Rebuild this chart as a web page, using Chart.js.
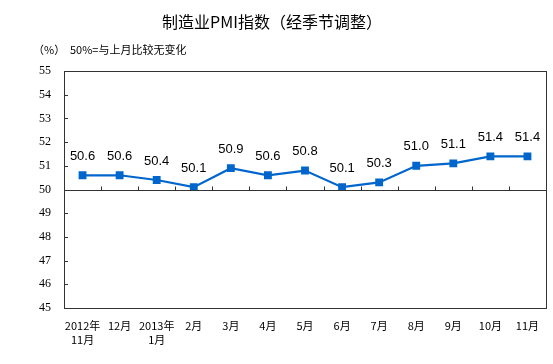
<!DOCTYPE html>
<html>
<head>
<meta charset="utf-8">
<script src="https://cdn.jsdelivr.net/npm/chart.js@4.4.0/dist/chart.umd.min.js"></script>
<style>
  html, body { margin: 0; padding: 0; background: #fff; }
  #wrap { width: 553px; height: 364px; position: relative; }
</style>
</head>
<body>
<div id="wrap"><canvas id="myChart"></canvas></div>
<script>
// months (two-line labels where the year is shown)
var months = [["2012年", "11月"], "12月", ["2013年", "1月"], "2月", "3月", "4月", "5月", "6月", "7月", "8月", "9月", "10月", "11月"];
var pmi = [50.6, 50.6, 50.4, 50.1, 50.9, 50.6, 50.8, 50.1, 50.3, 51.0, 51.1, 51.4, 51.4];
var yTicks = [45, 46, 47, 48, 49, 50, 51, 52, 53, 54, 55];

var titleText = "制造业PMI指数（经季节调整）";
var unitText = "（%）";
var noteText = "50%=与上月比较无变化";
var lineColor = "#0066cc";
var axisColor = "#333333";

// frame, 50 line, inner ticks, value labels, titles
var decor = {
    id: "decor",
    afterDatasetsDraw: function(chart) {
        var ctx = chart.ctx;
        var a = chart.chartArea;
        var xs = chart.scales.x;
        var ys = chart.scales.y;
        ctx.save();
        ctx.strokeStyle = axisColor;
        ctx.lineWidth = 1;
        ctx.strokeRect(Math.round(a.left) + 0.5, Math.round(a.top) + 0.5, Math.round(a.right - a.left), Math.round(a.bottom - a.top));

        // 50 line
        var y50 = Math.round(ys.getPixelForValue(50)) + 0.5;
        ctx.beginPath();
        ctx.moveTo(a.left, y50);
        ctx.lineTo(a.right, y50);
        ctx.stroke();

        // ticks on the 50 line between months
        ctx.beginPath();
        for (var i = 1; i < months.length; i++) {
            var bx = Math.round((xs.getPixelForValue(i - 1) + xs.getPixelForValue(i)) / 2) + 0.5;
            ctx.moveTo(bx, y50);
            ctx.lineTo(bx, y50 - 4);
        }
        // inner ticks on the y axis
        yTicks.forEach(function(v) {
            var ty = Math.round(ys.getPixelForValue(v)) + 0.5;
            ctx.moveTo(a.left, ty);
            ctx.lineTo(a.left + 4, ty);
        });
        ctx.stroke();

        // value labels
        ctx.fillStyle = "#000";
        ctx.font = "13px 'Liberation Sans', Arial, sans-serif";
        ctx.textAlign = "center";
        ctx.textBaseline = "middle";
        var meta = chart.getDatasetMeta(0);
        meta.data.forEach(function(p, i) {
            ctx.fillText(pmi[i].toFixed(1), p.x, p.y - 19);
        });

        // title and notes
        ctx.font = "16px 'Noto Sans CJK SC', sans-serif";
        ctx.fillText(titleText, 272, 22);
        ctx.font = "11px 'Noto Sans CJK SC', sans-serif";
        ctx.textAlign = "left";
        ctx.fillText(unitText, 33, 50);
        ctx.fillText(noteText, 70, 50);
        ctx.restore();
    }
};

const chart = new Chart("myChart", {
    type: "line",
    data: {
        labels: months,
        datasets: [{
            data: pmi,
            borderColor: lineColor,
            backgroundColor: lineColor,
            borderWidth: 2.2,
            pointStyle: "rect",
            pointRadius: 4,
            pointHoverRadius: 4,
            tension: 0,
            fill: false
        }]
    },
    options: {
        responsive: true,
        maintainAspectRatio: false,
        animation: false,
        events: [],
        layout: { padding: { top: 71, left: 0, right: 7, bottom: 0 } },
        plugins: {
            legend: { display: false },
            tooltip: { enabled: false },
            title: { display: false }
        },
        scales: {
            x: {
                offset: true,
                grid: { display: false, drawTicks: false },
                border: { display: false },
                ticks: {
                    autoSkip: false,
                    maxRotation: 0,
                    padding: 10,
                    color: "#000",
                    font: { family: "'Noto Sans CJK SC', sans-serif", size: 11, lineHeight: 1.35 }
                },
                afterFit: function(s) { s.height = 56; }
            },
            y: {
                min: 45,
                max: 55,
                afterBuildTicks: function(s) {
                    s.ticks = yTicks.map(function(v) { return { value: v }; });
                },
                grid: { display: false, drawTicks: false },
                border: { display: false },
                ticks: {
                    padding: 13,
                    color: "#000",
                    font: { family: "'Liberation Serif', serif", size: 12 }
                },
                afterFit: function(s) { s.width = 64; }
            }
        }
    },
    plugins: [decor]
});
</script>
</body>
</html>
